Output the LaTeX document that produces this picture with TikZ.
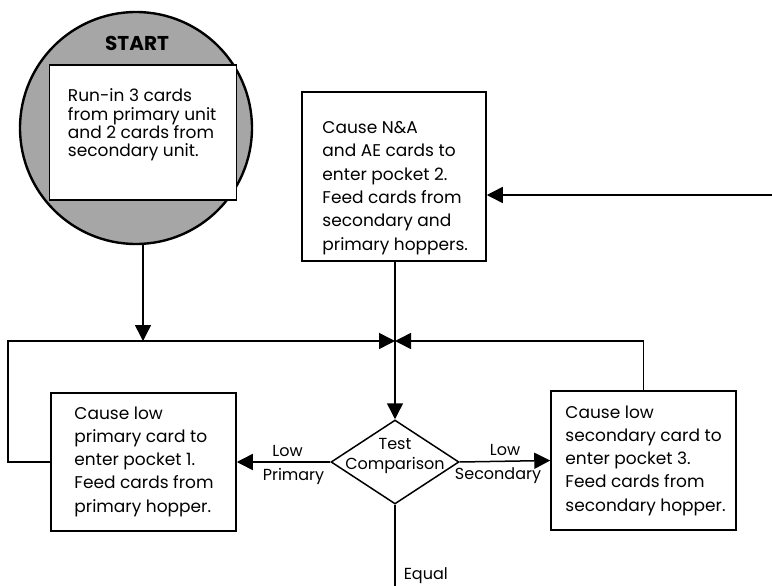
\documentclass[tikz,border=0pt]{standalone}
\usepackage{fontspec}
\setmainfont{Poppins}
\usetikzlibrary{arrows.meta, shapes.geometric, positioning}
\tikzset{
  % connector style
  garr/.style={
    line width = 1.5pt
  },
  head/.style={
    -{Triangle[length=16pt,width=16pt]}
  },
}
\tikzset{
  % process box style
  card/.style={
    draw
    , fill=white
    , line width=1.5pt
    , inner sep=0pt
    , anchor=center
  },
  % text inside a box
  cardtext/.style={
    inner sep=0pt
    , align=left
    , anchor=north west
    , font=\fontsize{17}{23.3}\selectfont
  },
  % label on a connector
  lbl/.style={
    font=\fontsize{16}{18}\selectfont
    , inner sep=2pt
  },
}

\begin{document}
\begin{tikzpicture}[x=1pt, y=-1pt]
      \useasboundingbox (0,0) rectangle (772,586);

      % start circle
      \node[circle, draw, line width=2.4pt, fill=black!35, minimum size=232pt, inner sep=0pt] (start) at (136,128) {};
      \node[font=\fontsize{20}{20}\selectfont\bfseries] (startlabel) at (137,43) {START};
      \node[card, minimum width=187pt, minimum height=135pt] (runin) at (143,132.5) {};
      \node[cardtext, font=\fontsize{17}{18.2}\selectfont] (runintext) at ([xshift=19pt,yshift=-24.5pt]runin.north west)
        {Run-in 3 cards\\from primary unit\\and 2 cards from\\secondary unit.};

      % boxes
      \node[card, minimum width=184pt, minimum height=169pt] (nabox) at (394,176.5) {};
      \node[cardtext] (natext) at ([xshift=21pt,yshift=-30pt]nabox.north west)
        {Cause N\&A\\and AE cards to\\enter pocket 2.\\Feed cards from\\secondary and\\primary hoppers.};

      \node[card, minimum width=185pt, minimum height=138pt] (lowprim) at (143.5,462) {};
      \node[cardtext] (lowprimtext) at ([xshift=24pt,yshift=-14pt]lowprim.north west)
        {Cause low\\primary card to\\enter pocket 1.\\Feed cards from\\primary hopper.};

      \node[card, minimum width=185pt, minimum height=139pt] (lowsec) at (643.5,460.5) {};
      \node[cardtext] (lowsectext) at ([xshift=15pt,yshift=-15pt]lowsec.north west)
        {Cause low\\secondary card to\\enter pocket 3.\\Feed cards from\\secondary hopper.};

      % decision
      \node[diamond, draw, line width=1.5pt, minimum width=128pt, minimum height=84pt, inner sep=0pt] (test) at (395,462) {};
      \node[align=center, inner sep=0pt, font=\fontsize{16}{20}\selectfont] (testtext) at ([yshift=6pt]test.center) {Test\\Comparison};

      % connector ends
      \coordinate (merge) at (395,341);
      \coordinate (loopl) at (8,341);
      \coordinate (feedin) at (772,195);
      \coordinate (equalend) at (395,586);

      \draw[garr,head] (start.south -| runin.south) -- (runin.south |- merge);
      \draw[garr,head] (lowprim.west) -| (loopl) -- (merge);
      \draw[garr,head] (lowsec.north) |- (merge);
      \draw[garr,head] (nabox.south -| test.north) -- (test.north);
      \draw[garr,head] (feedin) -- (feedin -| nabox.east);

      \draw[garr,head] (test.west) -- node[lbl, above, xshift=4pt, yshift=3pt] (lowp) {Low}
        node[lbl, below, xshift=10pt, yshift=-4pt] (prim) {Primary} (lowprim.east);
      \draw[garr,head] (test.east) -- node[lbl, above, xshift=0pt, yshift=3pt] (lows) {Low}
        node[lbl, below, xshift=-7pt, yshift=-4pt] (sec) {Secondary} (lowsec.west);
      \draw[garr] (test.south) -- (equalend)
        node[lbl, pos=1, anchor=base west, inner sep=0pt, xshift=8pt, yshift=7pt] (equal) {Equal};
    \end{tikzpicture}
\end{document}
